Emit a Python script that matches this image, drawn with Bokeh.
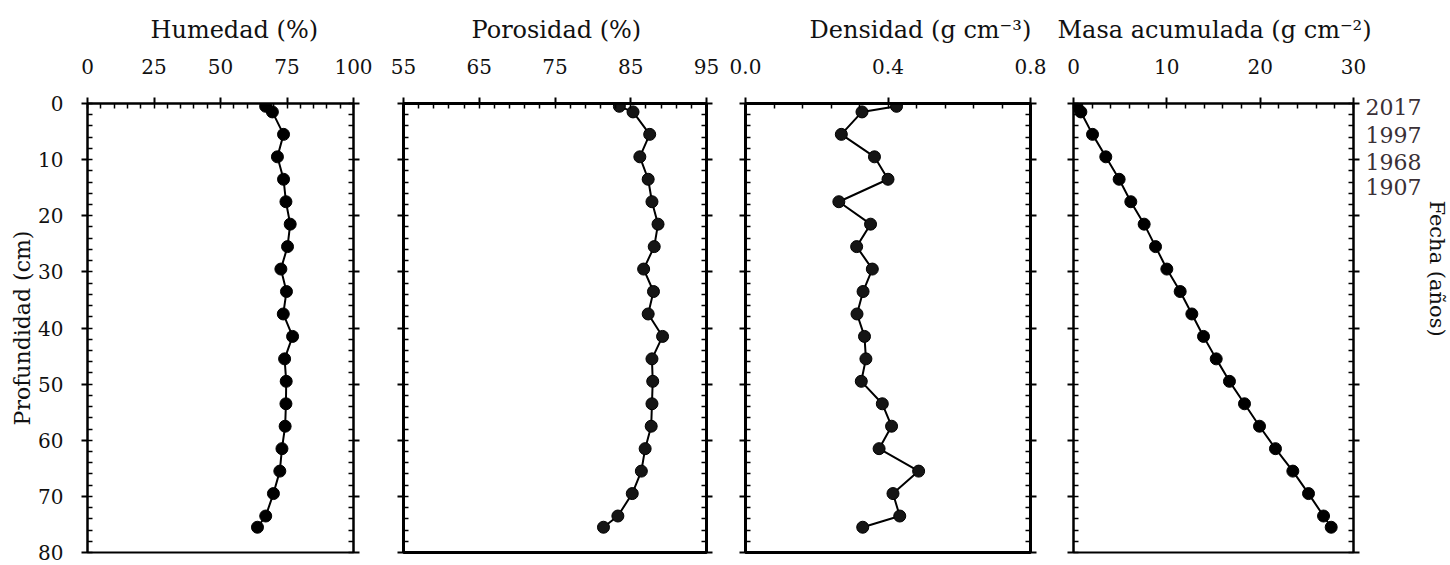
from bokeh.plotting import figure
from bokeh.layouts import row
from bokeh.models import Range1d, LinearAxis, FixedTicker, Title
from bokeh.embed import file_html
from bokeh.resources import INLINE

FONT = "DejaVu Serif"

# ---- data ----
depth = [0.5, 1.5, 5.5, 9.5, 13.5, 17.5, 21.5, 25.5, 29.5, 33.5, 37.5,
         41.5, 45.5, 49.5, 53.5, 57.5, 61.5, 65.5, 69.5, 73.5, 75.5]
humedad = [67.0, 69.5, 73.7, 71.4, 73.7, 74.6, 76.2, 75.2, 72.7, 74.8, 73.6,
           77.1, 74.1, 74.7, 74.6, 74.3, 73.1, 72.3, 69.9, 67.0, 63.9]
porosidad = [83.5, 85.3, 87.5, 86.2, 87.3, 87.8, 88.6, 88.1, 86.7, 88.0, 87.3,
             89.2, 87.8, 87.9, 87.8, 87.7, 86.9, 86.4, 85.2, 83.3, 81.4]
densidad = [0.424, 0.327, 0.269, 0.362, 0.400, 0.262, 0.351, 0.312, 0.356, 0.330, 0.313,
            0.334, 0.338, 0.325, 0.384, 0.410, 0.375, 0.486, 0.414, 0.433, 0.329]
masa = [0.36, 0.79, 2.04, 3.46, 4.89, 6.14, 7.57, 8.79, 10.0, 11.43, 12.68,
        13.93, 15.29, 16.71, 18.32, 19.93, 21.64, 23.5, 25.18, 26.79, 27.61]

depth_ticks = [0, 10, 20, 30, 40, 50, 60, 70, 80]
humedad_ticks = [0, 25, 50, 75, 100]
porosidad_ticks = [55, 65, 75, 85, 95]
densidad_ticks = [0.0, 0.4, 0.8]
densidad_tick_labels = ["0.0", "0.4", "0.8"]
masa_ticks = [0, 10, 20, 30]
year_depths = [0.7, 5.7, 10.4, 14.9]
year_labels = ["2017", "1997", "1968", "1907"]

titles = ["Humedad (%)", "Porosidad (%)", "Densidad (g cm\u207b\u00b3)",
          "Masa acumulada (g cm\u207b\u00b2)"]
y_title = "Profundidad (cm)"
right_title = "Fecha (a\u00f1os)"


def minor(start, stop, step):
    n = int(round((stop - start) / step))
    return [round(start + i * step, 6) for i in range(n + 1)]


FH = 449
TOP_B = 103
BOT_B = 13


def style_axis(ax, lw, ticks, labels=True):
    ax.axis_line_width = lw
    ax.major_tick_line_width = 2
    ax.minor_tick_line_width = 1.5
    ax.major_tick_out = 6
    ax.major_tick_in = 0
    ax.minor_tick_in = 5
    ax.minor_tick_out = 0
    ax.major_label_text_font = FONT
    ax.major_label_text_color = "#111111"
    ax.major_label_text_font_size = "20px"
    if not labels:
        ax.major_label_overrides = {t: "" for t in ticks}
        ax.major_label_text_color = None
        ax.major_label_standoff = 0


def make_panel(title, title_offset, xr, xticks, xminor, xs, fw, lb, rb, lw,
               fill, ylabels=False, xlabel_over=None):
    p = figure(frame_width=fw, frame_height=FH,
               x_range=Range1d(*xr), y_range=Range1d(80, 0),
               x_axis_type=None, y_axis_type=None,
               output_backend="svg", toolbar_location=None,
               min_border_left=lb, min_border_right=rb,
               min_border_top=TOP_B, min_border_bottom=BOT_B,
               title=title)
    p.title.align = "left"
    p.title.offset = title_offset
    p.title.text_font = FONT
    p.title.text_font_size = "24px"
    p.title.text_font_style = "normal"
    p.title.text_color = "#111111"
    p.title.standoff = 24
    p.outline_line_color = "black"
    p.outline_line_width = lw
    p.background_fill_color = "white"
    p.border_fill_color = "white"

    xa = LinearAxis(ticker=FixedTicker(ticks=xticks, minor_ticks=xminor))
    style_axis(xa, lw, xticks)
    xa.major_label_standoff = 24
    if xlabel_over:
        xa.major_label_overrides = xlabel_over
    p.add_layout(xa, "above")

    ymin = minor(0, 80, 2)
    ya = LinearAxis(ticker=FixedTicker(ticks=depth_ticks, minor_ticks=ymin))
    style_axis(ya, lw, depth_ticks, labels=ylabels)
    if ylabels:
        ya.major_label_standoff = 18
        ya.axis_label = y_title
        ya.axis_label_text_font = FONT
        ya.axis_label_text_font_size = "22px"
        ya.axis_label_text_font_style = "normal"
        ya.axis_label_text_color = "#111111"
        ya.axis_label_standoff = 0
    p.add_layout(ya, "left")

    yr = LinearAxis(ticker=FixedTicker(ticks=depth_ticks, minor_ticks=ymin))
    style_axis(yr, lw, depth_ticks, labels=False)
    p.add_layout(yr, "right")

    p.line(xs, depth, line_color="black", line_width=2)
    p.scatter(xs, depth, size=12, fill_color=fill, line_color="black", line_width=1)
    return p


p1 = make_panel(titles[0], 63, (0, 100), humedad_ticks, minor(0, 100, 5), humedad,
                266, 87, 25, 2, "black", ylabels=True)
p2 = make_panel(titles[1], 68, (55, 95), porosidad_ticks, minor(55, 95, 2), porosidad,
                303, 25, 20, 3, "#151515")
p3 = make_panel(titles[2], 64, (0, 0.8), densidad_ticks, minor(0, 0.8, 0.08), densidad,
                285, 19, 21, 3, "#151515",
                xlabel_over={t: l for t, l in zip(densidad_ticks, densidad_tick_labels)})
p4 = make_panel(titles[3], -16, (0, 30), masa_ticks, minor(0, 30, 2), masa,
                280, 22, 96, 2, "black")

ya_year = LinearAxis(ticker=FixedTicker(ticks=year_depths, minor_ticks=[]),
                     major_label_overrides={d: y for d, y in zip(year_depths, year_labels)})
ya_year.axis_line_color = None
ya_year.major_tick_line_color = None
ya_year.minor_tick_line_color = None
ya_year.major_tick_out = 0
ya_year.major_tick_in = 0
ya_year.major_label_standoff = 6
ya_year.major_label_text_font = FONT
ya_year.major_label_text_font_size = "22px"
ya_year.major_label_text_color = "#3a3036"
p4.add_layout(ya_year, "right")

t_right = Title(text=right_title, align="left", offset=97, standoff=0,
                text_font=FONT, text_font_size="21px", text_font_style="normal",
                text_color="#111111")
p4.add_layout(t_right, "right")

layout = row(p1, p2, p3, p4)
open("out.html", "w").write(file_html(layout, INLINE))
